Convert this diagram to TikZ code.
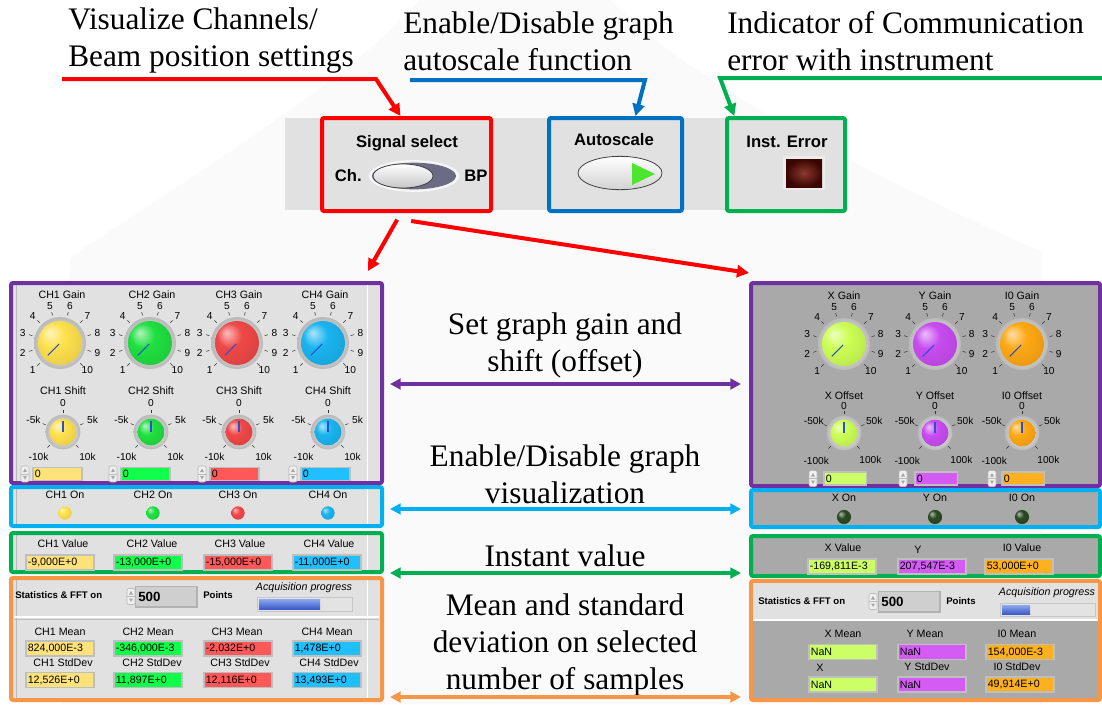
\documentclass[tikz,border=0pt]{standalone}
\usepackage{fontspec}
\setmainfont{Liberation Serif}
\setsansfont{Liberation Sans}
\usetikzlibrary{arrows.meta, positioning, fit, calc}
\definecolor{cRed}{HTML}{FF0000}
\definecolor{cBlue}{HTML}{0070C0}
\definecolor{cGreen}{HTML}{00B050}
\definecolor{cPurple}{HTML}{7030A0}
\definecolor{cCyan}{HTML}{00B0F0}
\definecolor{cOrange}{HTML}{F79646}
\definecolor{panL}{HTML}{E1E1E1}
\definecolor{panR}{HTML}{A9A9A9}
\definecolor{kYel}{HTML}{FFE14D}
\definecolor{kGrn}{HTML}{1FE040}
\definecolor{kRed}{HTML}{F04848}
\definecolor{kBlu}{HTML}{1AB4F0}
\definecolor{kLim}{HTML}{CCFF55}
\definecolor{kMag}{HTML}{C84CF0}
\definecolor{kOra}{HTML}{FFA814}
\definecolor{fYel}{HTML}{FFE37A}
\definecolor{fGrn}{HTML}{10FF4A}
\definecolor{fRed}{HTML}{FF5858}
\definecolor{fBlu}{HTML}{20C0FF}
\definecolor{fLim}{HTML}{CCFF66}
\definecolor{fMag}{HTML}{D45CF5}
\definecolor{fOra}{HTML}{FFB01E}
\definecolor{ptrBlue}{HTML}{2850D0}
\definecolor{ledOff}{HTML}{2A4A22}
\definecolor{ledGrn}{HTML}{4CE62E}
\definecolor{slate}{HTML}{6B6B85}
\definecolor{errHi}{HTML}{8B3A30}
\definecolor{errLo}{HTML}{3A0500}
\definecolor{progHi}{HTML}{8FA8EE}
\definecolor{progLo}{HTML}{3A5BC8}
\colorlet{knobc}{kYel}
\pgfdeclareradialshading[knobc]{knob}{\pgfqpoint{-12bp}{12bp}}{%
  color(0bp)=(knobc!35!white); color(14bp)=(knobc); color(34bp)=(knobc!90!black);
  color(44bp)=(knobc!72!black); color(50bp)=(knobc!65!black)}

\begin{document}
\begin{tikzpicture}[x=0.75pt, y=-0.75pt,
    note/.style={font=\fontsize{23.5}{27.75}\selectfont, inner sep=0},
    hlbox/.style={draw=#1, line width=3pt, inner sep=0, rounded corners=1.5pt},
    callout/.style={line width=3pt, -{Triangle[length=9pt, width=9pt]}},
    twoway/.style={line width=3pt, {Triangle[length=8pt, width=8pt]}-{Triangle[length=8pt, width=8pt]}},
    lbl/.style={font=\sffamily\fontsize{8}{9}\selectfont, inner sep=0},
    scl/.style={font=\sffamily\fontsize{7.6}{8}\selectfont, inner sep=0},
    blbl/.style={font=\sffamily\bfseries\fontsize{7.2}{8}\selectfont, inner sep=0},
    tbl/.style={font=\sffamily\bfseries\fontsize{12.5}{14}\selectfont, inner sep=0},
    ilbl/.style={font=\sffamily\itshape\fontsize{8}{9}\selectfont, inner sep=0},
    fldnode/.style={draw=gray!50, line width=1.2pt, fill=#1, minimum height=11pt, text width=48pt,
        inner sep=1.5pt, align=left, font=\sffamily\fontsize{8}{9}\selectfont},
    smallfld/.style={fldnode=#1, minimum height=10pt, text width=34pt},
    numbox/.style={draw=gray!60, line width=1pt, fill=gray!38, minimum height=15.5pt, text width=42pt,
        inner sep=2pt, align=left, font=\sffamily\bfseries\fontsize{10}{11}\selectfont},
    ptr/.style={draw=ptrBlue, line width=0.8pt},
    tck/.style={draw=black!80, line width=0.4pt},
    bezel/.style={inner color=white, outer color=gray!55},
]

\useasboundingbox (0,0) rectangle (1102,704);

% faint backdrop
\fill[gray!4] (62,704) -- (70,258) .. controls (200,170) and (350,80) .. (420,0) -- (610,0)
    .. controls (700,90) and (880,180) .. (1042,252) -- (1042,704) -- cycle;

% === Notes at the top ===
\node[note, anchor=west, align=left] (visnote) at (68,41) {Visualize Channels/\\Beam position settings};
\node[note, anchor=west, align=left] (autonote) at (403,41) {Enable/Disable graph\\autoscale function};
\node[note, anchor=west, align=left] (errnote) at (727,41) {Indicator of Communication\\error with instrument};

% === Top bar ===
\fill[panL] (285,118) rectangle (844,210);
\node[hlbox=cRed, fit={(322,118) (491,211)}] (sigsel) {};
\node[hlbox=cBlue, fit={(549,118) (682,211)}] (autosc) {};
\node[hlbox=cGreen, fit={(727,118) (845,211)}] (insterr) {};

\node[tbl] (sellbl) at (407,143) {Signal select};
\fill[white!92!gray] (414,176) ellipse[x radius=34pt, y radius=12pt];
\fill[slate] (414,176) ellipse[x radius=31.5pt, y radius=10pt];
\shadedraw[top color=white, bottom color=gray!45, draw=black!75, line width=0.6pt]
    (403,176) ellipse[x radius=22.5pt, y radius=9pt];
\node[tbl, anchor=east] (chlbl) at (362,176) {Ch.};
\node[tbl, anchor=west] (bplbl) at (464,176) {BP};

\node[tbl] (autolbl) at (614,140) {Autoscale};
\shadedraw[top color=white, bottom color=gray!35, draw=black!75, line width=0.6pt]
    (620,173) ellipse[x radius=31.5pt, y radius=12.5pt];
\fill[ledGrn] (632,163) -- (655,174) -- (632,185) -- cycle;

\node[tbl] (errlbl) at (787,142) {Inst. Error};
\fill[gray!15] (783,156) rectangle (825,190);
\shade[inner color=errHi, outer color=errLo] (786,159) rectangle (822,187);

% === Left panel: channels ===
\node[hlbox=cPurple, fill=panL, fit={(11,283) (382,483)}] (lgain) {};
\node[hlbox=cCyan, fill=panL, fit={(11,487) (382,526)}] (lon) {};
\node[hlbox=cGreen, fill=panL, fit={(11,533) (382,572)}] (lval) {};
\node[hlbox=cOrange, fill=panL, fit={(11,578) (382,700)}] (lstat) {};
\foreach \ya/\yb in {285/481, 489/524, 535/570, 580/698} {
    \draw[gray!55] (16,\ya) -- (16,\yb);
    \draw[white] (367,\ya) -- (367,\yb);
}

\foreach \kx/\sx/\kc/\ch in {60/63/kYel/1, 150/151/kGrn/2, 237/239/kRed/3, 323/328/kBlu/4} {
    \colorlet{knobc}{\kc}
    % gain knob
    \node[lbl] (gainlbl\ch) at (\kx+2,295) {CH\ch\ Gain};
    \shade[bezel] (\kx,343) circle[radius=19.5pt];
    \shade[shading=knob] (\kx,343) circle[radius=16.5pt];
    \draw[ptr] ($(\kx,343)+(225:1pt)$) -- ($(\kx,343)+(225:13pt)$);
    \foreach \v [count=\i from 0] in {1,...,10} {
        \pgfmathsetmacro{\ang}{225-30*\i}
        \draw[tck] ($(\kx,343)+(\ang:21.5pt)$) -- ($(\kx,343)+(\ang:24pt)$);
        \node[scl] (gaintk\ch-\v) at ($(\kx,343)+(\ang:29pt)$) {\v};
    }
    % shift knob
    \node[lbl] (shiftlbl\ch) at (\sx,391) {CH\ch\ Shift};
    \shade[bezel] (\sx,432) circle[radius=13pt];
    \shade[shading=knob] (\sx,432) circle[radius=10pt];
    \draw[ptr] (\sx,432) -- (\sx,421);
    \foreach \v/\ang/\rad [count=\j] in {-10k/225/26, -5k/157.5/24, 0/90/21.5, 5k/22.5/24, 10k/-45/26} {
        \draw[tck] ($(\sx,432)+(\ang:14pt)$) -- ($(\sx,432)+(\ang:16.5pt)$);
        \node[scl] (shifttk\ch-\j) at ($(\sx,432)+(\ang:\rad pt)$) {\v};
    }
}
\foreach \fx/\fc/\ch in {25/fYel/1, 113/fGrn/2, 202/fRed/3, 293/fBlu/4} {
    \node[smallfld=\fc, anchor=west] (shiftval\ch) at (\fx+7,474) {0};
}

% on/off leds
\foreach \lx/\lc/\ch in {65/kYel/1, 153/kGrn/2, 238/kRed/3, 328/kBlu/4} {
    \colorlet{knobc}{\lc}
    \node[lbl] (onlbl\ch) at (\lx,495) {CH\ch\ On};
    \shade[shading=knob] (\lx,513) circle[radius=5pt];
}

% instant values
\node[lbl] (vallbl1) at (63,544) {CH1 Value};
\node[lbl] (vallbl2) at (152,544) {CH2 Value};
\node[lbl] (vallbl3) at (240,544) {CH3 Value};
\node[lbl] (vallbl4) at (329,544) {CH4 Value};
\node[fldnode=fYel, anchor=west] (val1) at (25,562.5) {-9,000E+0};
\node[fldnode=fGrn, anchor=west] (val2) at (113,562.5) {-13,000E+0};
\node[fldnode=fRed, anchor=west] (val3) at (203,562.5) {-15,000E+0};
\node[fldnode=fBlu, anchor=west] (val4) at (292,562.5) {-11,000E+0};

% statistics
\node[blbl, anchor=west] (lstattxt) at (15,595) {Statistics \& FFT on};
\node[numbox, anchor=west] (lpts) at (135,596.5) {500};
\node[blbl, anchor=west] (lptstxt) at (203,595) {Points};
\node[ilbl] (lacq) at (304,588) {Acquisition progress};
\filldraw[fill=gray!22, draw=gray!45] (257,597) rectangle (352,611);
\shade[top color=progHi, bottom color=progLo] (259,599) rectangle (320,609);
\draw[white, line width=1pt] (14,617) -- (379,617);
\draw[gray!50] (14,619) -- (379,619);

\node[lbl] (meanlbl1) at (60,632) {CH1 Mean};
\node[lbl] (meanlbl2) at (148,632) {CH2 Mean};
\node[lbl] (meanlbl3) at (237,632) {CH3 Mean};
\node[lbl] (meanlbl4) at (327,632) {CH4 Mean};
\node[fldnode=fYel, anchor=west] (mean1) at (25,648.5) {824,000E-3};
\node[fldnode=fGrn, anchor=west] (mean2) at (113,648.5) {-346,000E-3};
\node[fldnode=fRed, anchor=west] (mean3) at (203,648.5) {-2,032E+0};
\node[fldnode=fBlu, anchor=west] (mean4) at (292,648.5) {1,478E+0};
\node[lbl] (sdlbl1) at (63,663) {CH1 StdDev};
\node[lbl] (sdlbl2) at (152,663) {CH2 StdDev};
\node[lbl] (sdlbl3) at (240,663) {CH3 StdDev};
\node[lbl] (sdlbl4) at (329,663) {CH4 StdDev};
\node[fldnode=fYel, anchor=west] (sd1) at (25,680) {12,526E+0};
\node[fldnode=fGrn, anchor=west] (sd2) at (113,680) {11,897E+0};
\node[fldnode=fRed, anchor=west] (sd3) at (203,680) {12,116E+0};
\node[fldnode=fBlu, anchor=west] (sd4) at (292,680) {13,493E+0};

% === Right panel: beam position ===
\node[hlbox=cPurple, fill=panR, fit={(751,283) (1100,486)}] (rgain) {};
\node[hlbox=cCyan, fill=panR, fit={(751,490) (1100,527)}] (ron) {};
\node[hlbox=cGreen, fill=panR, fit={(751,536) (1100,576)}] (rval) {};
\node[hlbox=cOrange, fill=panR, fit={(751,581) (1100,700)}] (rstat) {};

\foreach \kx/\kc/\fc/\ch in {844/kLim/fLim/X, 935/kMag/fMag/Y, 1022/kOra/fOra/I0} {
    \colorlet{knobc}{\kc}
    % gain knob
    \node[lbl] (rgainlbl\ch) at (\kx,296) {\ch\ Gain};
    \shade[bezel] (\kx,344) circle[radius=19.5pt];
    \shade[shading=knob] (\kx,344) circle[radius=16.5pt];
    \draw[ptr] ($(\kx,344)+(225:1pt)$) -- ($(\kx,344)+(225:13pt)$);
    \foreach \v [count=\i from 0] in {1,...,10} {
        \pgfmathsetmacro{\ang}{225-30*\i}
        \draw[tck] ($(\kx,344)+(\ang:21.5pt)$) -- ($(\kx,344)+(\ang:24pt)$);
        \node[scl] (rgaintk\ch-\v) at ($(\kx,344)+(\ang:28.5pt)$) {\v};
    }
    % offset knob
    \node[lbl] (offlbl\ch) at (\kx,396) {\ch\ Offset};
    \shade[bezel] (\kx,433) circle[radius=13pt];
    \shade[shading=knob] (\kx,433) circle[radius=10pt];
    \draw[ptr] (\kx,433) -- (\kx,422);
    \foreach \v/\ang/\rad [count=\j] in {-100k/225/29.5, -50k/157.5/24.5, 0/90/20, 50k/22.5/24.5, 100k/-45/28} {
        \draw[tck] ($(\kx,433)+(\ang:14pt)$) -- ($(\kx,433)+(\ang:16.5pt)$);
        \node[scl] (offtk\ch-\j) at ($(\kx,433)+(\ang:\rad pt)$) {\v};
    }
    \node[smallfld=\fc, text width=29pt, anchor=west] (offval\ch) at (\kx-21,478.5) {0};
    % led
    \colorlet{knobc}{ledOff}
    \node[lbl] (ronlbl\ch) at (\kx,498) {\ch\ On};
    \shade[shading=knob] (\kx,517) circle[radius=5.3pt];
}

% instant values
\node[lbl] (rvallblX) at (843,548) {X Value};
\node[lbl] (rvallblY) at (918,550) {Y};
\node[lbl] (rvallblI) at (1022,548) {I0 Value};
\node[fldnode=fLim, anchor=west] (rvalX) at (807,566.5) {-169,811E-3};
\node[fldnode=fMag, anchor=west] (rvalY) at (897,566.5) {207,547E-3};
\node[fldnode=fOra, anchor=west] (rvalI) at (984,566.5) {53,000E+0};

% statistics
\fill[panL] (753,583) rectangle (1098,620);
\draw[white, line width=1pt] (753,620) -- (1098,620);
\node[blbl, anchor=west] (rstattxt) at (758,601) {Statistics \& FFT on};
\node[numbox, anchor=west] (rpts) at (878,601.5) {500};
\node[blbl, anchor=west] (rptstxt) at (946,601) {Points};
\node[ilbl] (racq) at (1047,593) {Acquisition progress};
\filldraw[fill=gray!22, draw=gray!45] (1000,603) rectangle (1095,616);
\shade[top color=progHi, bottom color=progLo] (1002,605) rectangle (1030,614);

\node[lbl] (rmeanlblX) at (843,634) {X Mean};
\node[lbl] (rmeanlblY) at (925,634) {Y Mean};
\node[lbl] (rmeanlblI) at (1017,634) {I0 Mean};
\node[fldnode=fLim, anchor=west] (rmeanX) at (808,652) {NaN};
\node[fldnode=fMag, anchor=west] (rmeanY) at (897,652) {NaN};
\node[fldnode=fOra, anchor=west] (rmeanI) at (985,652) {154,000E-3};
\node[lbl] (rsdlblX) at (820,668) {X};
\node[lbl] (rsdlblY) at (927,667) {Y StdDev};
\node[lbl] (rsdlblI) at (1017,667) {I0 StdDev};
\node[fldnode=fLim, anchor=west] (rsdX) at (808,684.5) {NaN};
\node[fldnode=fMag, anchor=west] (rsdY) at (897,684.5) {NaN};
\node[fldnode=fOra, anchor=west] (rsdI) at (985,684.5) {49,914E+0};

% spinners
\foreach \px/\py in {25/474, 113/474, 202/474, 293/474, 813/478.5, 903/478.5, 992/478.5, 131/596.5, 873/601.5} {
    \filldraw[fill=gray!12, draw=gray!55, rounded corners=1.5pt] (\px-4,\py-8) rectangle (\px+4,\py+8);
    \draw[gray!55] (\px-4,\py) -- (\px+4,\py);
    \fill[gray!70] (\px-2,\py-2) -- (\px+2,\py-2) -- (\px,\py-5.5) -- cycle;
    \fill[gray!70] (\px-2,\py+2) -- (\px+2,\py+2) -- (\px,\py+5.5) -- cycle;
}

% === Middle notes ===
\node[note, align=center] (gainnote) at (565,345) {Set graph gain and\\shift (offset)};
\node[note, align=center] (onnote) at (565,474) {Enable/Disable graph\\visualization};
\node[note, align=center] (valnote) at (565,556) {Instant value};
\node[note, align=center] (statnote) at (565,645) {Mean and standard\\deviation on selected\\number of samples};

% === Links ===
\coordinate (vistail) at (62,79);
\coordinate (visbend) at (376,79);
\draw[callout, cRed] (vistail) -- (visbend) -- ([xshift=-4.5pt]sigsel.north);
\coordinate (autotail) at (410,80);
\coordinate (autobend) at (645,80);
\draw[callout, cBlue] (autotail) -- (autobend) -- ([xshift=15pt]autosc.north);
\coordinate (errtail) at (1102,78);
\coordinate (errbend) at (720,78);
\draw[callout, cGreen] (errtail) -- (errbend) -- ([xshift=7pt]insterr.north west);

\draw[callout, cRed] ([xshift=-7pt, yshift=-5pt]sigsel.south) -- ([xshift=-12pt, yshift=7.5pt]lgain.north east);
\draw[callout, cRed] ([xshift=3.5pt, yshift=-6pt]sigsel.south) -- ([yshift=6pt]rgain.north west);

\draw[twoway, cPurple] ($(lgain.east)+(6,1)$) -- ($(rgain.west)+(-8,-0.5)$);
\draw[twoway, cCyan] ($(lon.east)+(6,2.5)$) -- ($(ron.west)+(-8,0.5)$);
\draw[twoway, cGreen] ($(lval.east)+(6,20.5)$) -- ($(rval.west)+(-8,17)$);
\draw[twoway, cOrange] ($(lstat.east)+(6,58)$) -- ($(rstat.west)+(-8,56.5)$);

\end{tikzpicture}
\end{document}
